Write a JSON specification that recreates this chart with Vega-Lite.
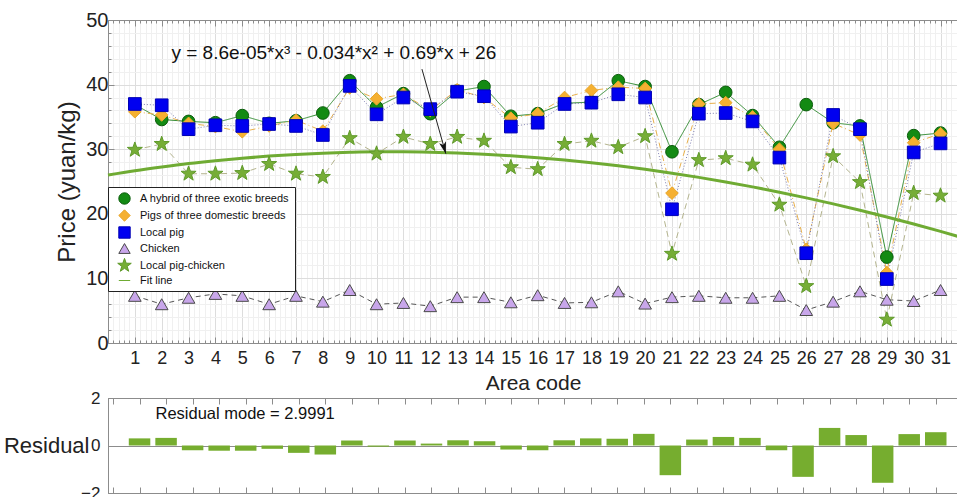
{
  "$schema": "https://vega.github.io/schema/vega-lite/v6.json",
  "background": "white",
  "padding": {"left": 2, "top": 9, "right": 0, "bottom": 0},
  "bounds": "flush",
  "spacing": 55,
  "config": {
    "font": "Liberation Sans",
    "view": {"stroke": "#8c8c8c", "strokeWidth": 1},
    "axis": {"labelFont": "Liberation Sans", "titleFont": "Liberation Sans", "labelColor": "#222", "titleColor": "#222", "titleFontWeight": "normal", "domainColor": "#8c8c8c", "tickColor": "#8c8c8c"},
    "legend": {"labelFont": "Liberation Sans"}
  },
  "datasets": {
    "prices": [
      {"area": 1, "series": "A hybrid of three exotic breeds", "price": 36.9},
      {"area": 2, "series": "A hybrid of three exotic breeds", "price": 34.6},
      {"area": 3, "series": "A hybrid of three exotic breeds", "price": 34.3},
      {"area": 4, "series": "A hybrid of three exotic breeds", "price": 34.1},
      {"area": 5, "series": "A hybrid of three exotic breeds", "price": 35.2},
      {"area": 6, "series": "A hybrid of three exotic breeds", "price": 34.0},
      {"area": 7, "series": "A hybrid of three exotic breeds", "price": 34.4},
      {"area": 8, "series": "A hybrid of three exotic breeds", "price": 35.6},
      {"area": 9, "series": "A hybrid of three exotic breeds", "price": 40.6},
      {"area": 10, "series": "A hybrid of three exotic breeds", "price": 36.5},
      {"area": 11, "series": "A hybrid of three exotic breeds", "price": 38.6},
      {"area": 12, "series": "A hybrid of three exotic breeds", "price": 35.5},
      {"area": 13, "series": "A hybrid of three exotic breeds", "price": 39.0},
      {"area": 14, "series": "A hybrid of three exotic breeds", "price": 39.7},
      {"area": 15, "series": "A hybrid of three exotic breeds", "price": 35.1},
      {"area": 16, "series": "A hybrid of three exotic breeds", "price": 35.5},
      {"area": 17, "series": "A hybrid of three exotic breeds", "price": 37.1},
      {"area": 18, "series": "A hybrid of three exotic breeds", "price": 37.3},
      {"area": 19, "series": "A hybrid of three exotic breeds", "price": 40.6},
      {"area": 20, "series": "A hybrid of three exotic breeds", "price": 39.7},
      {"area": 21, "series": "A hybrid of three exotic breeds", "price": 29.6},
      {"area": 22, "series": "A hybrid of three exotic breeds", "price": 36.9},
      {"area": 23, "series": "A hybrid of three exotic breeds", "price": 38.8},
      {"area": 24, "series": "A hybrid of three exotic breeds", "price": 35.2},
      {"area": 25, "series": "A hybrid of three exotic breeds", "price": 30.3},
      {"area": 26, "series": "A hybrid of three exotic breeds", "price": 36.9},
      {"area": 27, "series": "A hybrid of three exotic breeds", "price": 34.1},
      {"area": 28, "series": "A hybrid of three exotic breeds", "price": 33.6},
      {"area": 29, "series": "A hybrid of three exotic breeds", "price": 13.3},
      {"area": 30, "series": "A hybrid of three exotic breeds", "price": 32.1},
      {"area": 31, "series": "A hybrid of three exotic breeds", "price": 32.5},
      {"area": 1, "series": "Pigs of three domestic breeds", "price": 35.8},
      {"area": 2, "series": "Pigs of three domestic breeds", "price": 35.3},
      {"area": 3, "series": "Pigs of three domestic breeds", "price": 34.0},
      {"area": 4, "series": "Pigs of three domestic breeds", "price": 33.5},
      {"area": 5, "series": "Pigs of three domestic breeds", "price": 32.7},
      {"area": 6, "series": "Pigs of three domestic breeds", "price": 33.6},
      {"area": 7, "series": "Pigs of three domestic breeds", "price": 34.5},
      {"area": 8, "series": "Pigs of three domestic breeds", "price": 32.8},
      {"area": 9, "series": "Pigs of three domestic breeds", "price": 39.5},
      {"area": 10, "series": "Pigs of three domestic breeds", "price": 37.8},
      {"area": 11, "series": "Pigs of three domestic breeds", "price": 38.5},
      {"area": 12, "series": "Pigs of three domestic breeds", "price": 36.0},
      {"area": 13, "series": "Pigs of three domestic breeds", "price": 39.2},
      {"area": 14, "series": "Pigs of three domestic breeds", "price": 38.0},
      {"area": 15, "series": "Pigs of three domestic breeds", "price": 34.8},
      {"area": 16, "series": "Pigs of three domestic breeds", "price": 35.5},
      {"area": 17, "series": "Pigs of three domestic breeds", "price": 38.0},
      {"area": 18, "series": "Pigs of three domestic breeds", "price": 39.1},
      {"area": 19, "series": "Pigs of three domestic breeds", "price": 39.6},
      {"area": 20, "series": "Pigs of three domestic breeds", "price": 39.4},
      {"area": 21, "series": "Pigs of three domestic breeds", "price": 23.2},
      {"area": 22, "series": "Pigs of three domestic breeds", "price": 37.0},
      {"area": 23, "series": "Pigs of three domestic breeds", "price": 37.2},
      {"area": 24, "series": "Pigs of three domestic breeds", "price": 35.0},
      {"area": 25, "series": "Pigs of three domestic breeds", "price": 30.0},
      {"area": 26, "series": "Pigs of three domestic breeds", "price": 14.5},
      {"area": 27, "series": "Pigs of three domestic breeds", "price": 34.0},
      {"area": 28, "series": "Pigs of three domestic breeds", "price": 32.2},
      {"area": 29, "series": "Pigs of three domestic breeds", "price": 10.9},
      {"area": 30, "series": "Pigs of three domestic breeds", "price": 31.0},
      {"area": 31, "series": "Pigs of three domestic breeds", "price": 32.4},
      {"area": 1, "series": "Local pig", "price": 37.0},
      {"area": 2, "series": "Local pig", "price": 36.8},
      {"area": 3, "series": "Local pig", "price": 33.1},
      {"area": 4, "series": "Local pig", "price": 33.7},
      {"area": 5, "series": "Local pig", "price": 33.6},
      {"area": 6, "series": "Local pig", "price": 33.9},
      {"area": 7, "series": "Local pig", "price": 33.6},
      {"area": 8, "series": "Local pig", "price": 32.2},
      {"area": 9, "series": "Local pig", "price": 39.8},
      {"area": 10, "series": "Local pig", "price": 35.4},
      {"area": 11, "series": "Local pig", "price": 38.0},
      {"area": 12, "series": "Local pig", "price": 36.2},
      {"area": 13, "series": "Local pig", "price": 38.9},
      {"area": 14, "series": "Local pig", "price": 38.2},
      {"area": 15, "series": "Local pig", "price": 33.5},
      {"area": 16, "series": "Local pig", "price": 34.1},
      {"area": 17, "series": "Local pig", "price": 37.0},
      {"area": 18, "series": "Local pig", "price": 37.2},
      {"area": 19, "series": "Local pig", "price": 38.5},
      {"area": 20, "series": "Local pig", "price": 38.0},
      {"area": 21, "series": "Local pig", "price": 20.7},
      {"area": 22, "series": "Local pig", "price": 35.5},
      {"area": 23, "series": "Local pig", "price": 35.6},
      {"area": 24, "series": "Local pig", "price": 34.3},
      {"area": 25, "series": "Local pig", "price": 28.7},
      {"area": 26, "series": "Local pig", "price": 13.9},
      {"area": 27, "series": "Local pig", "price": 35.3},
      {"area": 28, "series": "Local pig", "price": 33.1},
      {"area": 29, "series": "Local pig", "price": 9.9},
      {"area": 30, "series": "Local pig", "price": 29.5},
      {"area": 31, "series": "Local pig", "price": 30.9},
      {"area": 1, "series": "Chicken", "price": 7.3},
      {"area": 2, "series": "Chicken", "price": 6.0},
      {"area": 3, "series": "Chicken", "price": 7.0},
      {"area": 4, "series": "Chicken", "price": 7.6},
      {"area": 5, "series": "Chicken", "price": 7.3},
      {"area": 6, "series": "Chicken", "price": 6.0},
      {"area": 7, "series": "Chicken", "price": 7.3},
      {"area": 8, "series": "Chicken", "price": 6.4},
      {"area": 9, "series": "Chicken", "price": 8.2},
      {"area": 10, "series": "Chicken", "price": 6.0},
      {"area": 11, "series": "Chicken", "price": 6.2},
      {"area": 12, "series": "Chicken", "price": 5.7},
      {"area": 13, "series": "Chicken", "price": 7.1},
      {"area": 14, "series": "Chicken", "price": 7.1},
      {"area": 15, "series": "Chicken", "price": 6.3},
      {"area": 16, "series": "Chicken", "price": 7.4},
      {"area": 17, "series": "Chicken", "price": 6.2},
      {"area": 18, "series": "Chicken", "price": 6.3},
      {"area": 19, "series": "Chicken", "price": 8.0},
      {"area": 20, "series": "Chicken", "price": 6.1},
      {"area": 21, "series": "Chicken", "price": 7.1},
      {"area": 22, "series": "Chicken", "price": 7.3},
      {"area": 23, "series": "Chicken", "price": 7.0},
      {"area": 24, "series": "Chicken", "price": 7.0},
      {"area": 25, "series": "Chicken", "price": 7.3},
      {"area": 26, "series": "Chicken", "price": 5.1},
      {"area": 27, "series": "Chicken", "price": 6.4},
      {"area": 28, "series": "Chicken", "price": 8.0},
      {"area": 29, "series": "Chicken", "price": 6.7},
      {"area": 30, "series": "Chicken", "price": 6.5},
      {"area": 31, "series": "Chicken", "price": 8.2},
      {"area": 1, "series": "Local pig-chicken", "price": 29.9},
      {"area": 2, "series": "Local pig-chicken", "price": 30.8},
      {"area": 3, "series": "Local pig-chicken", "price": 26.2},
      {"area": 4, "series": "Local pig-chicken", "price": 26.2},
      {"area": 5, "series": "Local pig-chicken", "price": 26.3},
      {"area": 6, "series": "Local pig-chicken", "price": 27.7},
      {"area": 7, "series": "Local pig-chicken", "price": 26.2},
      {"area": 8, "series": "Local pig-chicken", "price": 25.7},
      {"area": 9, "series": "Local pig-chicken", "price": 31.7},
      {"area": 10, "series": "Local pig-chicken", "price": 29.3},
      {"area": 11, "series": "Local pig-chicken", "price": 31.9},
      {"area": 12, "series": "Local pig-chicken", "price": 30.8},
      {"area": 13, "series": "Local pig-chicken", "price": 31.9},
      {"area": 14, "series": "Local pig-chicken", "price": 31.3},
      {"area": 15, "series": "Local pig-chicken", "price": 27.2},
      {"area": 16, "series": "Local pig-chicken", "price": 26.9},
      {"area": 17, "series": "Local pig-chicken", "price": 30.8},
      {"area": 18, "series": "Local pig-chicken", "price": 31.3},
      {"area": 19, "series": "Local pig-chicken", "price": 30.3},
      {"area": 20, "series": "Local pig-chicken", "price": 32.0},
      {"area": 21, "series": "Local pig-chicken", "price": 13.8},
      {"area": 22, "series": "Local pig-chicken", "price": 28.3},
      {"area": 23, "series": "Local pig-chicken", "price": 28.6},
      {"area": 24, "series": "Local pig-chicken", "price": 27.6},
      {"area": 25, "series": "Local pig-chicken", "price": 21.4},
      {"area": 26, "series": "Local pig-chicken", "price": 8.8},
      {"area": 27, "series": "Local pig-chicken", "price": 28.9},
      {"area": 28, "series": "Local pig-chicken", "price": 24.9},
      {"area": 29, "series": "Local pig-chicken", "price": 3.6},
      {"area": 30, "series": "Local pig-chicken", "price": 23.2},
      {"area": 31, "series": "Local pig-chicken", "price": 22.8}
    ],
    "fit": [
      {"area": 0, "series": "Fit line", "price": 26.0},
      {"area": 1, "series": "Fit line", "price": 26.66},
      {"area": 2, "series": "Fit line", "price": 27.24},
      {"area": 3, "series": "Fit line", "price": 27.77},
      {"area": 4, "series": "Fit line", "price": 28.22},
      {"area": 5, "series": "Fit line", "price": 28.61},
      {"area": 6, "series": "Fit line", "price": 28.93},
      {"area": 7, "series": "Fit line", "price": 29.19},
      {"area": 8, "series": "Fit line", "price": 29.39},
      {"area": 9, "series": "Fit line", "price": 29.52},
      {"area": 10, "series": "Fit line", "price": 29.59},
      {"area": 11, "series": "Fit line", "price": 29.59},
      {"area": 12, "series": "Fit line", "price": 29.53},
      {"area": 13, "series": "Fit line", "price": 29.41},
      {"area": 14, "series": "Fit line", "price": 29.23},
      {"area": 15, "series": "Fit line", "price": 28.99},
      {"area": 16, "series": "Fit line", "price": 28.69},
      {"area": 17, "series": "Fit line", "price": 28.33},
      {"area": 18, "series": "Fit line", "price": 27.91},
      {"area": 19, "series": "Fit line", "price": 27.43},
      {"area": 20, "series": "Fit line", "price": 26.89},
      {"area": 21, "series": "Fit line", "price": 26.29},
      {"area": 22, "series": "Fit line", "price": 25.64},
      {"area": 23, "series": "Fit line", "price": 24.93},
      {"area": 24, "series": "Fit line", "price": 24.17},
      {"area": 25, "series": "Fit line", "price": 23.34},
      {"area": 26, "series": "Fit line", "price": 22.47},
      {"area": 27, "series": "Fit line", "price": 21.54},
      {"area": 28, "series": "Fit line", "price": 20.55},
      {"area": 29, "series": "Fit line", "price": 19.51},
      {"area": 30, "series": "Fit line", "price": 18.42},
      {"area": 31, "series": "Fit line", "price": 17.28},
      {"area": 31.65, "series": "Fit line", "price": 16.5}
    ],
    "resid": [
      {"area": 1, "resid": 0.30}, {"area": 2, "resid": 0.32}, {"area": 3, "resid": -0.20},
      {"area": 4, "resid": -0.22}, {"area": 5, "resid": -0.22}, {"area": 6, "resid": -0.14},
      {"area": 7, "resid": -0.31}, {"area": 8, "resid": -0.38}, {"area": 9, "resid": 0.21},
      {"area": 10, "resid": -0.05}, {"area": 11, "resid": 0.21}, {"area": 12, "resid": 0.08},
      {"area": 13, "resid": 0.22}, {"area": 14, "resid": 0.18}, {"area": 15, "resid": -0.17},
      {"area": 16, "resid": -0.20}, {"area": 17, "resid": 0.22}, {"area": 18, "resid": 0.30},
      {"area": 19, "resid": 0.28}, {"area": 20, "resid": 0.49}, {"area": 21, "resid": -1.25},
      {"area": 22, "resid": 0.25}, {"area": 23, "resid": 0.36}, {"area": 24, "resid": 0.32},
      {"area": 25, "resid": -0.20}, {"area": 26, "resid": -1.32}, {"area": 27, "resid": 0.74},
      {"area": 28, "resid": 0.44}, {"area": 29, "resid": -1.57}, {"area": 30, "resid": 0.48},
      {"area": 31, "resid": 0.56}
    ]
  },
  "vconcat": [
    {
      "width": 850,
      "height": 323,
      "resolve": {"axis": {"x": "independent", "y": "independent"}},
      "layer": [
        {
          "data": {"name": "prices"},
          "mark": {"type": "line", "strokeWidth": 1},
          "encoding": {
            "x": {"field": "area", "type": "quantitative", "scale": {"domain": [0, 31.65], "nice": false, "zero": false},
              "axis": {"orient": "bottom", "tickCount": 160, "labelOverlap": false, "labelFlush": false,
                "labelExpr": "datum.value % 1 === 0 && datum.value > 0 ? datum.value : ''",
                "labelFontSize": 18, "labelPadding": 12,
                "tickSize": {"condition": {"test": "datum.value % 1 === 0", "value": -6}, "value": -3},
                "grid": true,
                "gridColor": {"condition": {"test": "datum.value % 1 === 0", "value": "#dddddd"}, "value": "#f0f0f0"},
                "title": "Area code", "titleFontSize": 21, "titlePadding": 2}},
            "y": {"field": "price", "type": "quantitative", "scale": {"domain": [0, 50], "nice": false},
              "axis": {"orient": "left", "tickCount": 25, "labelOverlap": false, "labelFlush": false,
                "labelExpr": "datum.value % 10 === 0 ? datum.label : ''",
                "labelFontSize": 20, "labelPadding": 6,
                "tickSize": {"condition": {"test": "datum.value % 10 === 0", "value": -6}, "value": -3},
                "grid": true,
                "gridColor": {"condition": {"test": "datum.value % 10 === 0", "value": "#dddddd"}, "value": "#f0f0f0"},
                "title": "Price (yuan/kg)", "titleFontSize": 24, "titlePadding": 6}},
            "color": {"field": "series", "type": "nominal", "legend": null,
              "scale": {"domain": ["A hybrid of three exotic breeds", "Pigs of three domestic breeds", "Local pig", "Chicken", "Local pig-chicken"],
                "range": ["#2f8a2f", "#e8b04c", "#7c7cb0", "#555555", "#b4b48e"]}},
            "strokeDash": {"field": "series", "type": "nominal", "legend": null,
              "scale": {"domain": ["A hybrid of three exotic breeds", "Pigs of three domestic breeds", "Local pig", "Chicken", "Local pig-chicken"],
                "range": [[1, 0], [6, 3, 1, 3], [1, 2], [5, 4], [6, 4]]}}
          }
        },
        {
          "data": {"name": "fit"},
          "mark": {"type": "line", "strokeWidth": 3, "interpolate": "monotone"},
          "encoding": {
            "x": {"field": "area", "type": "quantitative", "axis": null},
            "y": {"field": "price", "type": "quantitative", "axis": null},
            "stroke": {"field": "series", "type": "nominal",
              "scale": {"domain": ["A hybrid of three exotic breeds", "Pigs of three domestic breeds", "Local pig", "Chicken", "Local pig-chicken", "Fit line"],
                "range": ["#0b5c0b", "#e8a62a", "#0000b4", "#4a4a4a", "#5f9a2a", "#6fab33"]},
              "legend": {"title": null, "orient": "none", "legendX": 0, "legendY": 167, "padding": 5, "strokeColor": "#222", "fillColor": "white", "labelFontSize": 11, "labelLimit": 300, "symbolSize": 130, "symbolStrokeWidth": 1, "rowPadding": 0, "symbolOffset": 5, "labelOffset": 9, "labelColor": "#111"}}
          }
        },
        {
          "data": {"name": "prices"},
          "mark": {"type": "point", "filled": true, "size": 160, "strokeWidth": 1, "opacity": 1},
          "encoding": {
            "x": {"field": "area", "type": "quantitative",
              "axis": {"orient": "top", "labels": false, "tickCount": 160, "title": null, "grid": false,
                "tickSize": {"condition": {"test": "datum.value % 1 === 0", "value": -6}, "value": -3}}},
            "y": {"field": "price", "type": "quantitative", "axis": null},
            "fill": {"field": "series", "type": "nominal",
              "scale": {"domain": ["A hybrid of three exotic breeds", "Pigs of three domestic breeds", "Local pig", "Chicken", "Local pig-chicken", "Fit line"],
                "range": ["#138a13", "#f5b031", "#0000f0", "#c8a6ea", "#76ad36", "#6fab33"]},
              "legend": {"title": null, "orient": "none", "legendX": 0, "legendY": 167, "padding": 5, "strokeColor": "#222", "fillColor": "white", "labelFontSize": 11, "labelLimit": 300, "symbolSize": 130, "symbolStrokeWidth": 1, "rowPadding": 0, "symbolOffset": 5, "labelOffset": 9, "labelColor": "#111"}},
            "stroke": {"field": "series", "type": "nominal",
              "legend": {"title": null, "orient": "none", "legendX": 0, "legendY": 167, "padding": 5, "strokeColor": "#222", "fillColor": "white", "labelFontSize": 11, "labelLimit": 300, "symbolSize": 130, "symbolStrokeWidth": 1, "rowPadding": 0, "symbolOffset": 5, "labelOffset": 9, "labelColor": "#111"}},
            "shape": {"field": "series", "type": "nominal",
              "scale": {"domain": ["A hybrid of three exotic breeds", "Pigs of three domestic breeds", "Local pig", "Chicken", "Local pig-chicken", "Fit line"],
                "range": ["circle", "diamond", "square", "triangle-up", "M0,-1.25L0.294,-0.405L1.189,-0.386L0.476,0.155L0.735,1.011L0,0.5L-0.735,1.011L-0.476,0.155L-1.189,-0.386L-0.294,-0.405Z", "stroke"]},
              "legend": {"title": null, "orient": "none", "legendX": 0, "legendY": 167, "padding": 5, "strokeColor": "#222", "fillColor": "white", "labelFontSize": 11, "labelLimit": 300, "symbolSize": 130, "symbolStrokeWidth": 1, "rowPadding": 0, "symbolOffset": 5, "labelOffset": 9, "labelColor": "#111"}}
          }
        },
        {
          "data": {"values": [{"area": 8.41, "price": 44.9, "label": "y = 8.6e-05*x³ - 0.034*x² + 0.69*x + 26"}]},
          "mark": {"type": "text", "fontSize": 19, "align": "center", "baseline": "middle", "color": "#111"},
          "encoding": {
            "x": {"field": "area", "type": "quantitative", "axis": null},
            "y": {"field": "price", "type": "quantitative", "axis": null},
            "text": {"field": "label"}
          }
        },
        {
          "data": {"values": [{"area": 11.69, "price": 42.4, "area2": 12.58, "price2": 29.3}]},
          "mark": {"type": "rule", "color": "#222", "strokeWidth": 1},
          "encoding": {
            "x": {"field": "area", "type": "quantitative", "axis": null},
            "y": {"field": "price", "type": "quantitative", "axis": null},
            "x2": {"field": "area2"},
            "y2": {"field": "price2"}
          }
        },
        {
          "data": {"values": [{"area": 12.58, "price": 29.3}]},
          "mark": {"type": "point", "filled": true, "color": "#111", "opacity": 1, "size": 400, "angle": -15.8,
            "shape": "M0,0L-0.35,-1.2L0,-0.9L0.35,-1.2Z"},
          "encoding": {
            "x": {"field": "area", "type": "quantitative", "axis": null},
            "y": {"field": "price", "type": "quantitative", "axis": null}
          }
        }
      ]
    },
    {
      "width": 850,
      "height": 95,
      "resolve": {"axis": {"x": "independent", "y": "independent"}},
      "layer": [
        {
          "data": {"name": "resid"},
          "mark": {"type": "bar", "size": 21.5, "color": "#76ad2f"},
          "encoding": {
            "x": {"field": "area", "type": "quantitative", "scale": {"domain": [0, 31.65], "nice": false, "zero": false},
              "axis": {"orient": "bottom", "tickCount": 32, "labels": false, "tickSize": -6, "grid": false, "title": null}},
            "y": {"field": "resid", "type": "quantitative", "scale": {"domain": [-2, 2], "nice": false},
              "axis": {"orient": "left", "values": [-2, 0, 2], "labelFontSize": 17, "labelPadding": 8, "ticks": false,
                "grid": true, "gridColor": "#8c8c8c", "labelFlush": false,
                "title": "Residual", "titleFontSize": 22, "titleAngle": 0, "titleAlign": "right", "titleBaseline": "middle", "titleX": -19, "titleY": 47.5}}
          }
        },
        {
          "data": {"values": [{"area": 1.6, "resid": 1.32, "label": "Residual mode = 2.9991"}]},
          "mark": {"type": "text", "fontSize": 16.5, "align": "left", "baseline": "middle", "color": "#111"},
          "encoding": {
            "x": {"field": "area", "type": "quantitative",
              "axis": {"orient": "top", "tickCount": 32, "labels": false, "tickSize": -6, "grid": false, "title": null}},
            "y": {"field": "resid", "type": "quantitative", "axis": null},
            "text": {"field": "label"}
          }
        }
      ]
    }
  ]
}
